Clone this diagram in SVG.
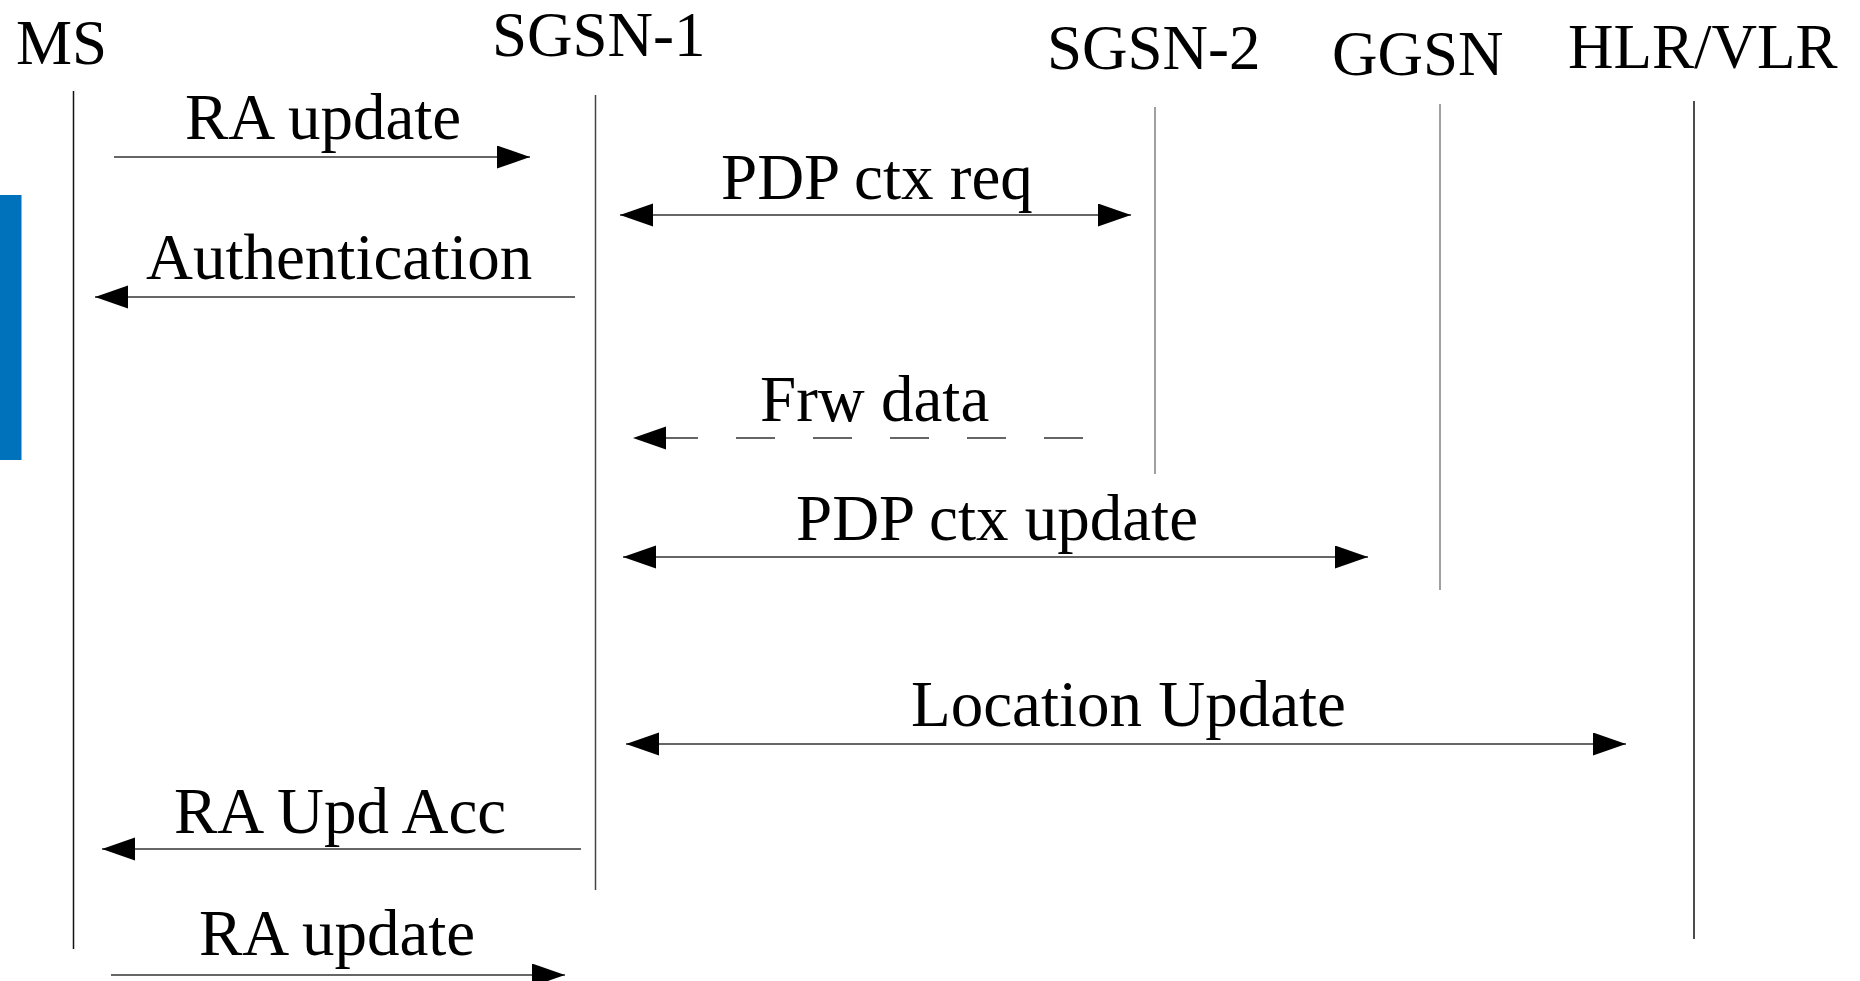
<svg xmlns="http://www.w3.org/2000/svg" width="1860" height="981" viewBox="0 0 1860 981">
  <style>
    .lbl { font-family: "Liberation Serif", "Times New Roman", serif; font-size: 63px; fill: #000; }
    .txt { font-size: 65px; }
    .life { fill: none; stroke-width: 1.5; }
    .msg { fill: none; stroke: #333; stroke-width: 1.5; }
    .dash { stroke-dasharray: 39 38; }
  </style>
  <defs>
    <marker id="head" markerUnits="userSpaceOnUse" markerWidth="34" markerHeight="24" refX="33" refY="11.5" orient="auto-start-reverse" viewBox="0 0 34 24">
      <path d="M0,0 L33,11.5 L0,23 Z" fill="#000"/>
    </marker>
  </defs>

  <rect x="0" y="195" width="21.5" height="265" fill="#0071BB"/>

  <g id="ms">
    <text class="lbl" x="16" y="64">MS</text>
    <line class="life" x1="73.5" y1="91" x2="73.5" y2="949" stroke="#111"/>
  </g>
  <g id="sgsn1">
    <text class="lbl" x="492" y="56">SGSN-1</text>
    <line class="life" x1="595.5" y1="95" x2="595.5" y2="890" stroke="#444"/>
  </g>
  <g id="sgsn2">
    <text class="lbl" x="1047" y="69">SGSN-2</text>
    <line class="life" x1="1155" y1="107" x2="1155" y2="474" stroke="#808080" stroke-width="2"/>
  </g>
  <g id="ggsn">
    <text class="lbl" x="1332" y="75">GGSN</text>
    <line class="life" x1="1440" y1="104" x2="1440" y2="590" stroke="#808080" stroke-width="2"/>
  </g>
  <g id="hlr">
    <text class="lbl" x="1568" y="68">HLR/VLR</text>
    <line class="life" x1="1694" y1="101" x2="1694" y2="939" stroke="#111"/>
  </g>

  <g id="connectors">
    <line class="msg" x1="114" y1="157" x2="530" y2="157" marker-end="url(#head)"/>
    <text class="lbl txt" x="185" y="139">RA update</text>

    <line class="msg" x1="620" y1="215" x2="1131" y2="215" marker-start="url(#head)" marker-end="url(#head)"/>
    <text class="lbl txt" x="721" y="199">PDP ctx req</text>

    <line class="msg" x1="575" y1="297" x2="95" y2="297" marker-end="url(#head)" stroke="#666"/>
    <text class="lbl txt" x="146" y="279">Authentication</text>

    <line class="msg dash" x1="1083" y1="438" x2="633" y2="438" marker-end="url(#head)"/>
    <text class="lbl txt" x="760" y="421">Frw data</text>

    <line class="msg" x1="623" y1="557" x2="1368" y2="557" marker-start="url(#head)" marker-end="url(#head)"/>
    <text class="lbl txt" x="796" y="540">PDP ctx update</text>

    <line class="msg" x1="626" y1="744" x2="1626" y2="744" marker-start="url(#head)" marker-end="url(#head)"/>
    <text class="lbl txt" x="911" y="726">Location Update</text>

    <line class="msg" x1="581" y1="849" x2="102" y2="849" marker-end="url(#head)"/>
    <text class="lbl txt" x="174" y="833">RA Upd Acc</text>

    <line class="msg" x1="111" y1="975" x2="565" y2="975" marker-end="url(#head)" stroke="#666"/>
    <text class="lbl txt" x="199" y="955">RA update</text>
  </g>
</svg>
